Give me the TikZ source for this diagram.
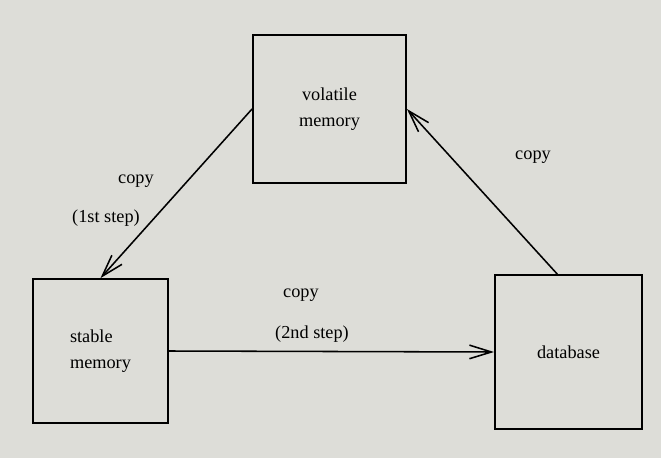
\documentclass[tikz,border=0pt]{standalone}
\usepackage{fontspec}
\setmainfont{Liberation Serif}
\usetikzlibrary{arrows.meta,positioning}
\definecolor{paper}{RGB}{221,221,216}

\begin{document}
\begin{tikzpicture}[x=0.025cm,y=-0.025cm,>={Straight Barb[length=5.5mm,width=3.4mm]},
                    line width=1.1pt,
                    box node/.style={rectangle,draw,line width=1.2pt,font=\fontsize{13}{19}\selectfont},
                    label node/.style={font=\fontsize{13}{16}\selectfont}]
  \fill[paper] (0,0) rectangle (661,458);
  \useasboundingbox (0,0) rectangle (661,458);
  \node[box node,minimum width=3.83cm,minimum height=3.7cm,align=center] (vol) at (329.5,109) {volatile\\memory};
  \node[box node,minimum width=3.38cm,minimum height=3.6cm,align=left] (stab) at (100.5,351) {stable\\memory};
  \node[box node,minimum width=3.68cm,minimum height=3.85cm] (db) at (568.5,352) {database};
  \path[->]
    (vol.west) edge (stab.north)
    (stab.east) edge (db.west)
    ([xshift=-0.28cm]db.north) edge (vol.east);
  % edge labels
  \node[label node] (copy1) at (136,181) {copy};
  \node[label node] (step1) at (106,218) {(1st step)};
  \node[label node] (copy2) at (301,295) {copy};
  \node[label node] (step2) at (312,334) {(2nd step)};
  \node[label node] (copy3) at (533,157) {copy};
\end{tikzpicture}
\end{document}
